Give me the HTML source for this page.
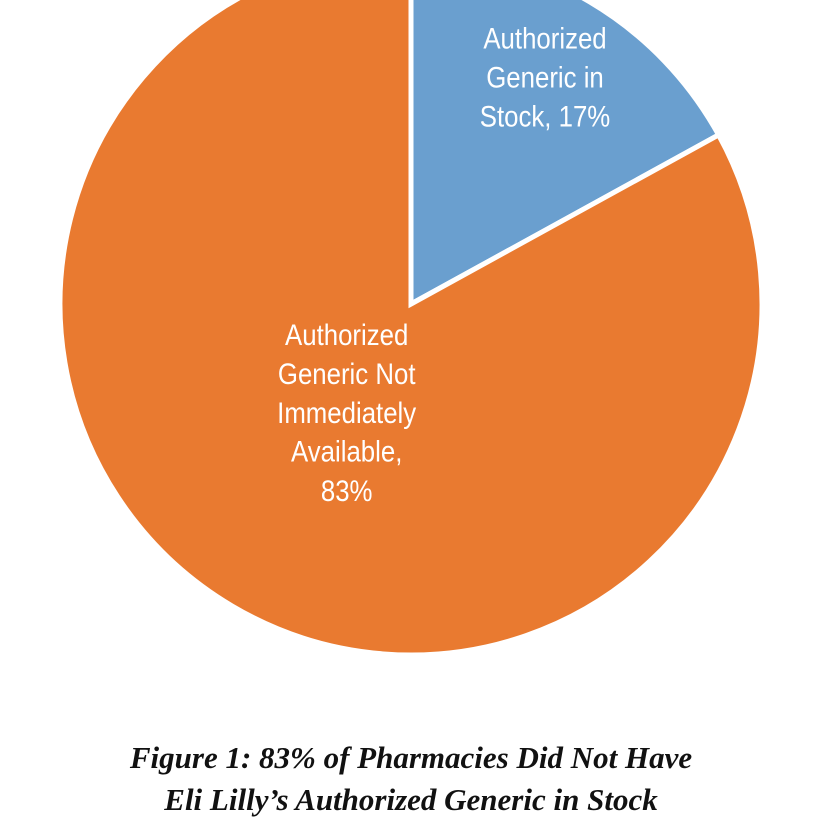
<!DOCTYPE html>
<html><head><meta charset="utf-8"><style>
html,body{margin:0;padding:0;background:#fff;}
body{width:814px;height:832px;overflow:hidden;}
</style></head><body>
<svg id="chart" width="814" height="832" viewBox="0 0 814 832" xmlns="http://www.w3.org/2000/svg">
<g id="slices"></g>
<g id="labels"></g>
<text x="411" y="768" text-anchor="middle" font-family="Liberation Serif, serif" font-style="italic" font-weight="bold" font-size="31" fill="#111">Figure 1: 83% of Pharmacies Did Not Have</text>
<text x="411" y="810" text-anchor="middle" font-family="Liberation Serif, serif" font-style="italic" font-weight="bold" font-size="31" fill="#111">Eli Lilly’s Authorized Generic in Stock</text>
</svg>
<script>
const categories = ["Authorized Generic in Stock", "Authorized Generic Not Immediately Available"];
const values = [17, 83];
const labelLines = [["Authorized","Generic in","Stock, 17%"],["Authorized","Generic Not","Immediately","Available,","83%"]];
const colors = ["#6a9fcf", "#e97a30"];
const cx = 411, cy = 304, r = 351;
const NS = "http://www.w3.org/2000/svg";
const total = values.reduce((a,b)=>a+b,0);
function pt(angle, rad){ return [cx + rad*Math.sin(angle), cy - rad*Math.cos(angle)]; }
const slicesG = document.getElementById('slices');
const labelsG = document.getElementById('labels');
let start = 0;
values.forEach((v,i)=>{
  const a0 = start/total*2*Math.PI, a1 = (start+v)/total*2*Math.PI;
  const p0 = pt(a0,r), p1 = pt(a1,r);
  const large = (a1-a0) > Math.PI ? 1 : 0;
  const path = document.createElementNS(NS,'path');
  path.setAttribute('d', `M${cx},${cy} L${p0[0]},${p0[1]} A${r},${r} 0 ${large} 1 ${p1[0]},${p1[1]} Z`);
  path.setAttribute('fill', colors[i]);
  path.setAttribute('stroke', '#fff');
  path.setAttribute('stroke-width', '5');
  path.setAttribute('stroke-linejoin', 'miter');
  
  
  slicesG.appendChild(path);
  const mid = (a0+a1)/2;
  const lr = i===0 ? r*0.75 : r*0.36;
  const lp = pt(mid, lr);
  const lines = labelLines[i];
  const lh = 39;
  const y0 = lp[1] - (lines.length-1)*lh/2 + 10;
  const t = document.createElementNS(NS,'text');
  
  
  t.setAttribute('text-anchor','middle');
  t.setAttribute('font-family','Liberation Sans, sans-serif');
  t.setAttribute('font-size','30');
  t.setAttribute('fill','#fff');
  t.setAttribute('transform', `translate(${lp[0]},0) scale(0.86,1)`);
  lines.forEach((ln,j)=>{
    const ts = document.createElementNS(NS,'tspan');
    ts.setAttribute('x', 0);
    ts.setAttribute('y', y0 + j*lh);
    ts.textContent = ln;
    t.appendChild(ts);
  });
  labelsG.appendChild(t);
  start += v;
});
</script>
</body></html>
